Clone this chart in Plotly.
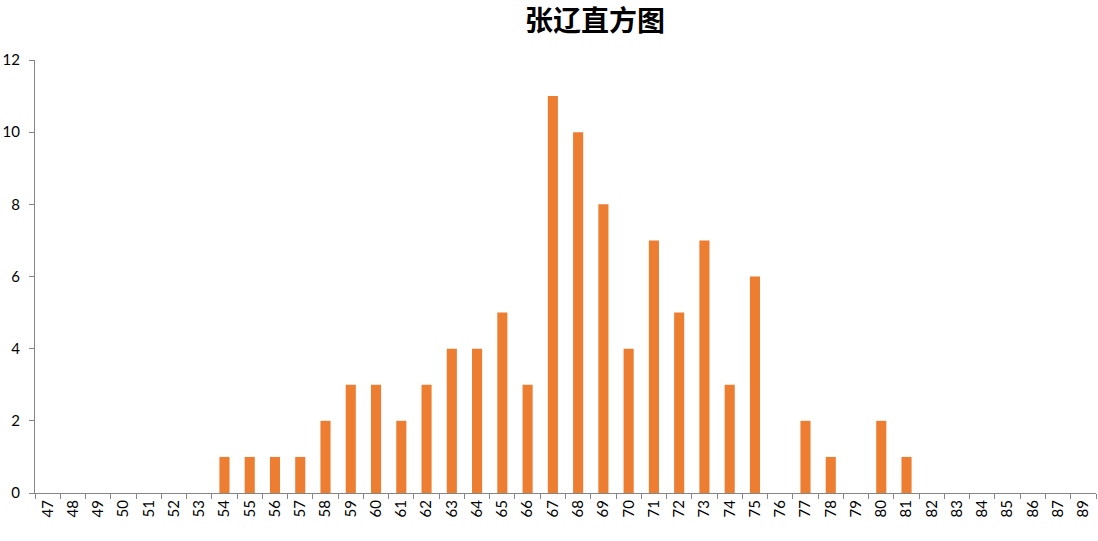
import plotly.graph_objects as go

categories = [str(v) for v in range(47, 88)] + ["89"]
counts = [0, 0, 0, 0, 0, 0, 0,          # 47-53
          1, 1, 1, 1, 2, 3, 3, 2, 3,    # 54-62
          4, 4, 5, 3, 11, 10, 8, 4,     # 63-70
          7, 5, 7, 3, 6, 0, 2, 1, 0,    # 71-79
          2, 1, 0, 0, 0, 0, 0, 0,       # 80-87
          0]                            # 89
y_ticks = [0, 2, 4, 6, 8, 10, 12]

fig = go.Figure(go.Bar(x=categories, y=counts, marker_color="#ED7D31",
                       marker_line_width=0))

axis_color = "#868686"
fig.update_layout(
    width=1098, height=541,
    paper_bgcolor="white", plot_bgcolor="white",
    margin=dict(l=35, r=2, t=60, b=48, autoexpand=False),
    bargap=0.6,
    showlegend=False,
    font=dict(family="Lato, 'Noto Sans CJK SC', sans-serif", size=15, color="#000000"),
    title=dict(text="<b>张辽直方图</b>", x=595 / 1098, xref="container", xanchor="center",
               y=1 - 21 / 541, yref="container", yanchor="middle",
               font=dict(family="'Noto Sans CJK SC', sans-serif", size=28, color="#000000")),
)
fig.update_xaxes(type="category", tickangle=-90, showline=True, linecolor=axis_color,
                 linewidth=1, ticks="outside", tickson="boundaries", ticklen=5,
                 tickcolor=axis_color, showgrid=False, zeroline=False,
                 automargin=False, tickfont=dict(size=15))
fig.update_yaxes(range=[0, 12], tickvals=y_ticks, showline=True, linecolor=axis_color,
                 linewidth=1, ticks="outside", ticklen=5, tickcolor=axis_color,
                 showgrid=False, zeroline=False, automargin=False,
                 ticklabelstandoff=6, tickfont=dict(size=15))

fig.write_html("out.html", config={"displayModeBar": False},
               post_script="document.body.style.margin='0';document.body.style.overflow='hidden';")
